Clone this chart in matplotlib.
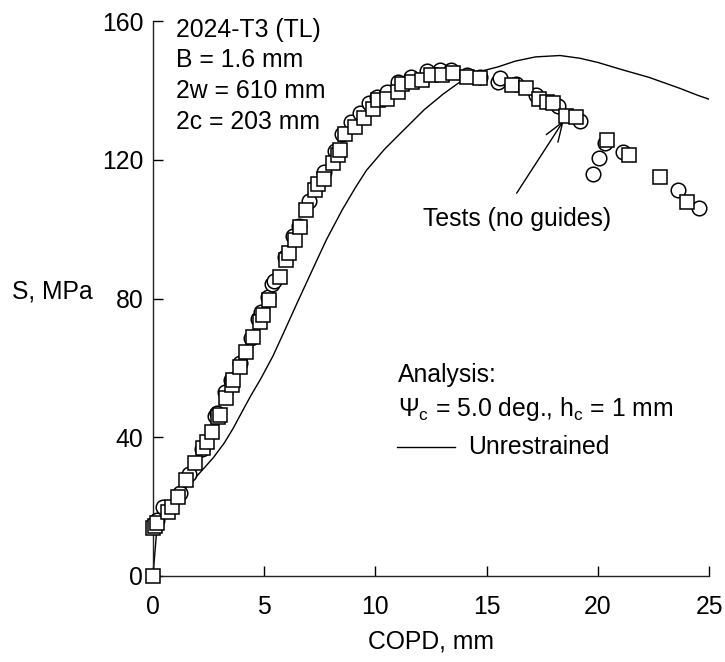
"""
Residual strength vs COPD for 2024-T3 (TL) panel: tests (no guides)
compared with the unrestrained analysis curve.
"""

import numpy as np
import matplotlib

matplotlib.use('Agg')
import matplotlib.pyplot as plt

plt.rcParams['font.family'] = ['Liberation Sans', 'DejaVu Sans']
plt.rcParams['mathtext.fontset'] = 'custom'
plt.rcParams['mathtext.rm'] = 'Liberation Sans'
plt.rcParams['mathtext.it'] = 'Liberation Sans:italic'

FS = 17.8

# Test data, square symbols (COPD mm, S MPa)
sq_x = [0.0, 0.0, 0.1, 0.2, 0.68, 0.84, 1.14, 1.5, 1.9, 2.26, 2.42, 2.64,
        2.93, 3.0, 3.3, 3.54, 3.6, 3.9, 4.2, 4.5, 4.8, 4.95, 5.2, 5.7, 6.0,
        6.1, 6.4, 6.6, 6.9, 7.3, 7.4, 7.7, 8.1, 8.3, 8.4, 8.65, 9.1, 9.5,
        9.9, 10.1, 10.5, 11.0, 11.2, 11.65, 12.1, 12.5, 13.0, 13.5, 14.1,
        14.7, 16.15, 16.75, 17.35, 17.7, 18.0, 18.55, 19.0, 20.4, 21.4,
        22.8, 24.0]
sq_y = [0.0, 13.8, 14.5, 15.2, 18.4, 20.0, 22.8, 27.6, 32.5, 36.8, 38.7,
        41.6, 45.8, 46.5, 51.3, 55.0, 56.5, 60.3, 64.6, 69.0, 73.3, 75.2,
        79.5, 86.2, 91.0, 93.0, 96.8, 100.6, 105.4, 111.2, 113.0, 114.6,
        119.0, 121.3, 122.8, 127.6, 129.5, 132.0, 134.8, 137.2, 137.5,
        139.6, 142.0, 142.5, 142.9, 144.4, 144.4, 145.0, 143.9, 143.5,
        141.5, 140.6, 137.5, 136.7, 136.3, 132.6, 132.4, 125.6, 121.3,
        115.0, 107.8]

# Test data, circle symbols
ci_x = [0.05, 0.2, 0.45, 1.2, 1.6, 2.2, 2.8, 2.9, 3.25, 3.5, 3.9, 4.4, 4.7,
        4.85, 5.15, 5.35, 5.45, 5.95, 6.3, 6.55, 7.0, 7.35, 7.7, 8.2, 8.5,
        8.9, 9.3, 9.7, 10.05, 10.5, 11.0, 11.6, 12.3, 12.9, 13.4, 14.1,
        14.7, 15.5, 15.6, 16.3, 17.2, 18.2, 19.2, 19.8, 20.05, 20.3, 21.15,
        23.6, 24.55]
ci_y = [15.0, 16.0, 19.9, 24.0, 29.5, 36.5, 46.0, 47.0, 53.0, 56.5, 61.5,
        68.5, 74.0, 76.0, 80.5, 84.3, 85.0, 92.0, 98.0, 101.0, 108.0, 112.5,
        116.5, 122.5, 127.5, 131.0, 133.5, 136.5, 138.0, 139.5, 142.5,
        144.0, 145.6, 146.0, 146.0, 144.5, 144.0, 142.5, 143.5, 142.0,
        138.6, 135.5, 131.1, 116.0, 120.5, 124.8, 122.3, 111.4, 106.0]

# Analysis, unrestrained
an_x = [0.0, 0.18, 0.4, 1.2, 2.1, 2.7, 3.2, 3.6, 4.0, 4.4, 4.84, 5.4, 5.9,
        6.5, 7.4, 7.8, 8.5, 9.1, 9.6, 10.4, 11.1, 12.2, 13.05, 13.7, 14.4,
        15.5, 16.3, 17.2, 18.3, 19.2, 20.0, 21.2, 22.3, 23.7, 24.5, 25.0]
an_y = [0.0, 14.0, 18.0, 23.5, 29.7, 34.0, 38.3, 42.5, 47.3, 52.0, 56.8,
        63.5, 70.5, 79.0, 91.5, 97.0, 105.5, 112.0, 117.0, 123.0, 127.5,
        134.5, 139.0, 142.0, 145.0, 146.8, 148.5, 149.7, 150.1, 149.3,
        148.1, 145.8, 143.8, 140.6, 138.6, 137.5]

x_ticks = [0, 5, 10, 15, 20, 25]
y_ticks = [0, 40, 80, 120, 160]

specimen_lines = ['2024-T3 (TL)', 'B = 1.6 mm', '2w = 610 mm', '2c = 203 mm']


def main():
  fig = plt.figure(figsize=(7.25, 6.62), dpi=100)
  ax = fig.add_axes([0.211, 0.130, 0.767, 0.838])

  ax.plot(an_x, an_y, color='black', linewidth=1.0, zorder=2)
  ax.plot(ci_x, ci_y, linestyle='none', marker='o', markersize=10.5,
          markerfacecolor='white', markeredgecolor='black',
          markeredgewidth=1.1, clip_on=False, zorder=3)
  ax.plot(sq_x, sq_y, linestyle='none', marker='s', markersize=10.5,
          markerfacecolor='white', markeredgecolor='black',
          markeredgewidth=1.1, clip_on=False, zorder=4)

  ax.set_xlim(0, 25)
  ax.set_ylim(0, 160)
  ax.set_xticks(x_ticks)
  ax.set_yticks(y_ticks)
  ax.tick_params(direction='in', length=7, width=1.0, labelsize=FS)
  ax.tick_params(axis='x', pad=14)
  ax.tick_params(axis='y', pad=7)
  for side in ('top', 'right'):
    ax.spines[side].set_visible(False)
  for side in ('left', 'bottom'):
    ax.spines[side].set_linewidth(1.0)
    ax.spines[side].set_color('#222222')

  ax.set_xlabel('COPD, mm', fontsize=FS, labelpad=7)
  ax.set_ylabel('S, MPa', fontsize=FS, rotation=0, ha='right', va='center')
  ax.yaxis.set_label_coords(-0.108, 0.512)

  # specimen description, top left
  for i, line in enumerate(specimen_lines):
    ax.text(1.03, 157.6 - 8.85 * i, line, fontsize=FS, ha='left', va='center')

  ax.annotate('', xy=(18.47, 131.4), xytext=(16.35, 110.4),
              arrowprops=dict(arrowstyle='->,head_length=0.7,head_width=0.25',
                              color='black', linewidth=1.0,
                              shrinkA=0, shrinkB=0, mutation_scale=20))
  ax.text(12.14, 103.0, 'Tests (no guides)', fontsize=FS, ha='left', va='center')

  ax.text(11.0, 57.9, 'Analysis:', fontsize=FS, ha='left', va='center')
  ax.text(11.0, 48.1, r'Ψ$_\mathrm{c}$ = 5.0 deg., h$_\mathrm{c}$ = 1 mm',
          fontsize=FS, ha='left', va='center')
  ax.plot([10.99, 13.56], [37.2, 37.2], color='black', linewidth=1.0)
  ax.text(14.16, 37.2, 'Unrestrained', fontsize=FS, ha='left', va='center')

  fig.savefig('out.png', dpi=100)
  plt.close(fig)


if __name__ == '__main__':
  main()
